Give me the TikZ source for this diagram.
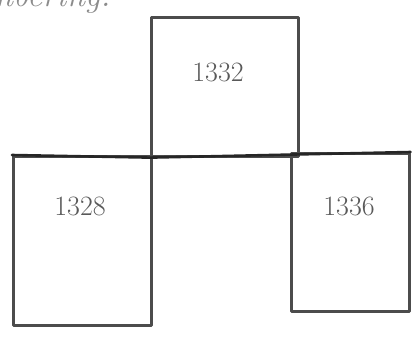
\documentclass[tikz,border=0pt]{standalone}
\usetikzlibrary{positioning}
\begin{document}
\begin{tikzpicture}[x=1pt,y=-1pt,
  pencil/.style={draw=black!70, line width=2.6pt, line join=round, line cap=round},
  roombox/.style={pencil, rectangle, inner sep=0pt},
  lbl/.style={font=\fontsize{28}{30}\selectfont, text=black!65}]
\useasboundingbox (0,0) rectangle (417,338);
\clip (0,0) rectangle (417,338);
% cut-off heading text
\node[anchor=base east, font=\itshape\fontsize{34}{36}\selectfont, text=black!45] (head) at (114,6) {numbering.};
% rooms
\node[roombox, minimum width=147pt, minimum height=139pt, anchor=north west] (r1332) at (150,16) {};
\node[roombox, minimum width=138pt, minimum height=169pt, anchor=north west] (r1328) at (12,155) {};
\node[roombox, minimum width=118pt, minimum height=158pt, anchor=north west] (r1336) at (290,152) {};
% labels
\node[lbl] (t1332) at (218,72) {1332};
\node[lbl] (t1328) at (80,206) {1328};
\node[lbl] (t1336) at (349,206) {1336};
% corridor line
\draw[pencil, draw=black!85] (r1328.north west) -- (r1332.south west) -- (r1336.north east);
\end{tikzpicture}
\end{document}
